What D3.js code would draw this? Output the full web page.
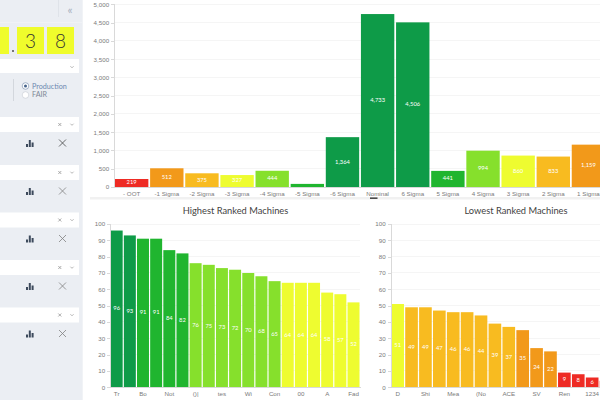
<!DOCTYPE html>
<html><head><meta charset="utf-8">
<script src="https://cdn.jsdelivr.net/npm/d3@7"></script>
<style>
html,body{margin:0;padding:0;background:#fff;overflow:hidden}
svg{display:block;font-family:Lato,sans-serif}
.axis path,.axis line{stroke:#d9d9d9;shape-rendering:crispEdges}
.axis text{fill:#7a7a7a;font-size:6.2px}
.grid line{stroke:#f5f5f5;shape-rendering:crispEdges}
.title{font-size:9.3px;fill:#3f3f3f;text-anchor:middle}
.val{fill:#fff;font-size:5.8px;text-anchor:middle;dominant-baseline:middle}
</style></head><body>
<svg id="c" width="600" height="400"></svg>
<script>
// top chart
const sigmaCats=["- OOT","-1 Sigma","-2 Sigma","-3 Sigma","-4 Sigma","-5 Sigma","-6 Sigma","Nominal","6 Sigma","5 Sigma","4 Sigma","3 Sigma","2 Sigma","1 Sigma"];
const sigmaVals=[219,512,375,327,444,85,1364,4733,4506,441,994,860,833,1159];
const sigmaBands=["red","orange","gold","yellow","lime","mid","dark","dark","dark","mid","lime","yellow","gold","orange"];
const sigmaTicks=[0,500,1000,1500,2000,2500,3000,3500,4000,4500,5000];
// ranked charts
const highCats=["Tr","h2","Bo","h4","Not","h6","()|","h8","tes","h10","Wi","h12","Con","h14","00","h16","A","h18","Fad"];
const highVals=[96,93,91,91,84,82,76,75,73,72,70,68,65,64,64,64,58,57,52];
const highTickLabels=["Tr","Bo","Not","()|","tes","Wi","Con","00","A","Fad"];
const lowCats=["D","l2","Shi","l4","Mea","l6","(No","l8","ACE","l10","SV","l12","Ren","l14","1234","l16"];
const lowVals=[51,49,49,47,46,46,44,39,37,35,24,22,9,8,6,4];
const lowTickLabels=["D","Shi","Mea","(No","ACE","SV","Ren","1234"];
const rankTicks=[0,10,20,30,40,50,60,70,80,90,100];
const palette={red:"#ee2b24",orange:"#f2991a",gold:"#f8bb20",yellow:"#eefc30",lime:"#86e02c",mid:"#20b52f",dark:"#0e9b48"};
const rankBand=d3.scaleThreshold().domain([10,36,50,64.5,80,92]).range(["red","orange","gold","yellow","lime","mid","dark"]);

const svg=d3.select("#c");
svg.append("rect").attr("width",600).attr("height",400).attr("fill","#fff");

function chart(o){
  const x=d3.scaleBand().domain(o.cats).range(o.xr).paddingInner(o.pad).paddingOuter(o.pad/2);
  const y=d3.scaleLinear().domain(o.dom).range(o.yr);
  const g=svg.append("g");
  g.append("g").attr("class","grid").selectAll("line").data(o.ticks.slice(1)).join("line")
    .attr("x1",o.xr[0]).attr("x2",o.xr[1]).attr("y1",d=>y(d)).attr("y2",d=>y(d));
  g.selectAll(".bar").data(o.vals).join("rect").attr("class","bar")
    .attr("x",(d,i)=>x(o.cats[i])).attr("width",x.bandwidth())
    .attr("y",d=>y(d)).attr("height",d=>y(0)-y(d))
    .attr("fill",(d,i)=>palette[o.band(d,i)]);
  g.selectAll(".val").data(o.vals).join("text").attr("class","val")
    .attr("x",(d,i)=>x(o.cats[i])+x.bandwidth()/2).attr("y",d=>(y(d)+y(0))/2)
    .text(d=>o.skip&&o.skip(d)?"":d3.format(",")(d));
  g.append("g").attr("class","axis").attr("transform",`translate(${o.xr[0]},0)`)
    .call(d3.axisLeft(y).tickValues(o.ticks).tickSize(3).tickPadding(2).tickFormat(d3.format(",")));
  g.append("g").attr("class","axis").attr("transform",`translate(0,${o.yr[0]})`)
    .call(d3.axisBottom(x).tickValues(o.cats.filter(o.tickF)).tickSize(0).tickPadding(4.5));
}
chart({cats:sigmaCats,vals:sigmaVals,xr:[114.1,606],yr:[187,4.3],dom:[0,5000],ticks:sigmaTicks,pad:.05,
  band:(d,i)=>sigmaBands[i],tickF:()=>true,skip:d=>d===85});
chart({cats:highCats,vals:highVals,xr:[110.1,360.1],yr:[387.3,224],dom:[0,100],ticks:rankTicks,pad:.09,
  band:d=>rankBand(d),tickF:c=>highTickLabels.includes(c)});
chart({cats:lowCats,vals:lowVals,xr:[390.7,613],yr:[387.3,224],dom:[0,100],ticks:rankTicks,pad:.09,
  band:d=>rankBand(d),tickF:c=>lowTickLabels.includes(c),skip:d=>d===4});
svg.append("text").attr("class","title").attr("x",235.5).attr("y",214).text("Highest Ranked Machines");
svg.append("text").attr("class","title").attr("x",516).attr("y",214).text("Lowest Ranked Machines");
// divider under top chart + scroll marker
svg.append("rect").attr("x",90).attr("y",197).attr("width",510).attr("height",2.5).attr("fill","#f1f1f1");
svg.append("rect").attr("x",370).attr("y",197.5).attr("width",7.5).attr("height",1.3).attr("fill","#222");

// sidebar
const side=svg.append("g");
side.append("rect").attr("width",82).attr("height",400).attr("fill","#ebeef3");
side.append("rect").attr("x",82).attr("width",1).attr("height",400).attr("fill","#f1f3f6");
side.append("rect").attr("y",22).attr("width",82).attr("height",1).attr("fill","#f0f2f6");
side.append("rect").attr("x",58).attr("width",1).attr("height",17).attr("fill","#dfe3e9");
side.append("text").attr("x",70).attr("y",14).attr("text-anchor","middle").attr("font-size",12).attr("fill","#a9b2bf").text("«");
const tiles=[{x:-16,w:25,t:""},{x:17,w:27,t:"3"},{x:47,w:27,t:"8"}];
side.selectAll(".tile").data(tiles).join("rect").attr("class","tile").attr("x",d=>d.x).attr("y",27).attr("width",d=>d.w).attr("height",27).attr("fill","#effc2c");
side.selectAll(".dig").data(tiles).join("text").attr("class","dig").attr("x",d=>d.x+d.w/2).attr("y",47.5).attr("text-anchor","middle").attr("font-size",19).attr("font-weight",300).attr("fill","#333").text(d=>d.t);
side.append("rect").attr("x",12).attr("y",50).attr("width",2).attr("height",2).attr("fill","#777");
function chevron(g,x,y){g.append("path").attr("d",`M${x-1.6},${y-.8}L${x},${y+.8}L${x+1.6},${y-.8}`).attr("fill","none").attr("stroke","#999").attr("stroke-width",.7);}
side.append("rect").attr("y",59).attr("width",79).attr("height",14).attr("fill","#fff");
chevron(side,72,67);
side.append("rect").attr("x",13).attr("y",79).attr("width",1).attr("height",22).attr("fill","#d3d7dd");
side.append("circle").attr("cx",25.5).attr("cy",86).attr("r",3.3).attr("fill","#fff").attr("stroke","#6f87a8").attr("stroke-width",.6);
side.append("circle").attr("cx",25.5).attr("cy",86).attr("r",1.5).attr("fill","#45628a");
side.append("circle").attr("cx",25.5).attr("cy",95).attr("r",3.3).attr("fill","#fff").attr("stroke","#c3c8d0").attr("stroke-width",.6);
side.append("text").attr("x",32).attr("y",88.5).attr("font-size",7.2).attr("fill","#6c88b0").text("Production");
side.append("text").attr("x",32).attr("y",97.3).attr("font-size",7.2).attr("fill","#7d8896").text("FAIR");
const rowTops=[117,165,212.5,260,307.5];
rowTops.forEach((t,i)=>{
  const g=side.append("g");
  g.append("rect").attr("y",t).attr("width",79).attr("height",15).attr("fill","#fff");
  const xs=t+7.5;
  g.append("path").attr("d",`M58.3,${xs-1.5}l3,3m0,-3l-3,3`).attr("stroke","#8a8a8a").attr("stroke-width",.7).attr("fill","none");
  chevron(g,72,xs);
  const c=t+26;
  g.selectAll(".ib").data([3,7,4.5]).join("rect").attr("class","ib")
    .attr("x",(d,j)=>26+j*2.8).attr("y",d=>c+4-d).attr("width",2).attr("height",d=>d).attr("fill","#3d4a5c");
  g.append("path").attr("d",`M59,${c-3.5}l7,7m0,-7l-7,7`).attr("stroke",i==0?"#444":"#808080").attr("stroke-width",.8).attr("fill","none");
});
</script>
</body></html>
